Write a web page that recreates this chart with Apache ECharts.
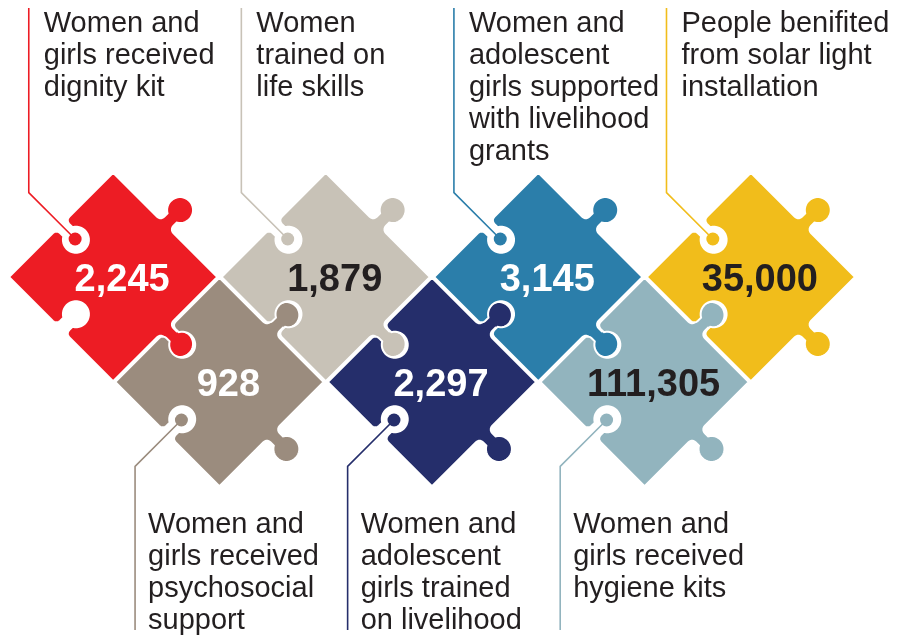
<!DOCTYPE html>
<html>
<head>
<meta charset="utf-8">
<style>
  html, body { margin: 0; padding: 0; background: #fff; }
  #chart { width: 903px; height: 637px; }
</style>
<script src="https://cdn.jsdelivr.net/npm/echarts@6/dist/echarts.min.js"></script>
</head>
<body>
<div id="chart"></div>
<script>
var values = [2245, 928, 1879, 2297, 3145, 111305, 35000];
var columns = [0, 1, 2, 3, 4, 5, 6];
var rows = [0, 1, 0, 1, 0, 1, 0]; // 0 = upper row, 1 = lower row
var captions = [
    "Women and\ngirls received\ndignity kit",
    "Women and\ngirls received\npsychosocial\nsupport",
    "Women\ntrained on\nlife skills",
    "Women and\nadolescent\ngirls trained\non livelihood",
    "Women and\nadolescent\ngirls supported\nwith livelihood\ngrants",
    "Women and\ngirls received\nhygiene kits",
    "People benifited\nfrom solar light\ninstallation"
];

var pieceColors = ["#ed1c24", "#9b8c7e", "#c8c2b7", "#252e6b", "#2b7eaa", "#92b4be", "#f1bd1b"];
var numberColors = ["#fff", "#fff", "#231f20", "#fff", "#fff", "#231f20", "#231f20"];
var FONT = '"Liberation Sans", Arial, Helvetica, sans-serif';

// one side of the piece, with a knob (sign 1) or a socket (sign -1)
function edge(out, p, q, sign) {
    var dx = q[0] - p[0], dy = q[1] - p[1],
        len = Math.sqrt(dx * dx + dy * dy),
        ux = dx / len, uy = dy / len,
        nx = uy, ny = -ux,
        m = len / 2, n = 6.5, f = 5, d = 21, R = 13,
        k = Math.sqrt(R * R - n * n), a, j;

    function put(t, o) {
        out.push([p[0] + ux * t + nx * o * sign, p[1] + uy * t + ny * o * sign]);
    }
    put(0, 0);
    for (j = 0; j <= 5; j++) {
        a = -Math.PI / 2 + j / 5 * Math.PI / 2;
        put(m - n - f + f * Math.cos(a), f + f * Math.sin(a));
    }
    var s = Math.atan2(-k, -n), e = Math.atan2(-k, n) - 2 * Math.PI;
    for (j = 0; j <= 30; j++) {
        a = s + (e - s) * j / 30;
        put(m + R * Math.cos(a), d + R * Math.sin(a));
    }
    for (j = 0; j <= 5; j++) {
        a = Math.PI + j / 5 * Math.PI / 2;
        put(m + n + f + f * Math.cos(a), f + f * Math.sin(a));
    }
}

function piecePoints(cx, cy, r) {
    var L = [cx - r, cy], T = [cx, cy - r], Rt = [cx + r, cy], B = [cx, cy + r],
        pts = [];
    edge(pts, L, T, -1);
    edge(pts, T, Rt, 1);
    edge(pts, Rt, B, 1);
    edge(pts, B, L, -1);
    return pts;
}

function renderPiece(params, api) {
    var i = params.dataIndex,
        c = api.coord([api.value(0), api.value(1)]),
        r = api.size([1, 0])[0] * 0.98,
        upper = api.value(1) === 0,
        dir = upper ? -1 : 1,
        color = pieceColors[i],
        dot = [c[0] - 0.365 * r, c[1] + dir * 0.365 * r],
        bend = [c[0] - 0.81 * r, c[1] + dir * 0.81 * r],
        end = [bend[0], upper ? 8 : api.getHeight() - 7];

    return {
        type: "group",
        children: [{
            type: "polygon",
            shape: { points: piecePoints(c[0], c[1], r) },
            style: { fill: color, stroke: "#fff", lineWidth: 2 }
        }, {
            type: "polyline",
            shape: { points: [dot, bend, end] },
            style: { fill: null, stroke: color, lineWidth: 1.6 }
        }, {
            type: "circle",
            shape: { cx: dot[0], cy: dot[1], r: 6.5 },
            style: { fill: color }
        }, {
            type: "text",
            style: {
                text: echarts.format.addCommas(api.value(2)),
                x: c[0] + 9,
                y: c[1] + 4,
                align: "center",
                verticalAlign: "middle",
                fill: numberColors[i],
                fontFamily: FONT,
                fontWeight: "bold",
                fontSize: 38
            }
        }, {
            type: "text",
            style: {
                text: captions[i],
                x: bend[0] + (upper ? 15 : 13),
                y: upper ? 8 : 509,
                align: "left",
                verticalAlign: "top",
                fill: "#231f20",
                fontFamily: FONT,
                fontSize: 29,
                lineHeight: 32
            }
        }]
    };
}

var chart = echarts.init(document.getElementById("chart"));
chart.setOption({
    animation: false,
    grid: { left: 60, right: 99, top: 224.5, bottom: 202.5 },
    xAxis: { type: "value", min: -0.5, max: 6.5, show: false },
    yAxis: { type: "value", min: -0.5, max: 1.5, inverse: true, show: false },
    series: [{
        type: "custom",
        renderItem: renderPiece,
        data: columns.map(function(x, i) {
            return [x, rows[i], values[i]];
        })
    }]
});
</script>
</body>
</html>
